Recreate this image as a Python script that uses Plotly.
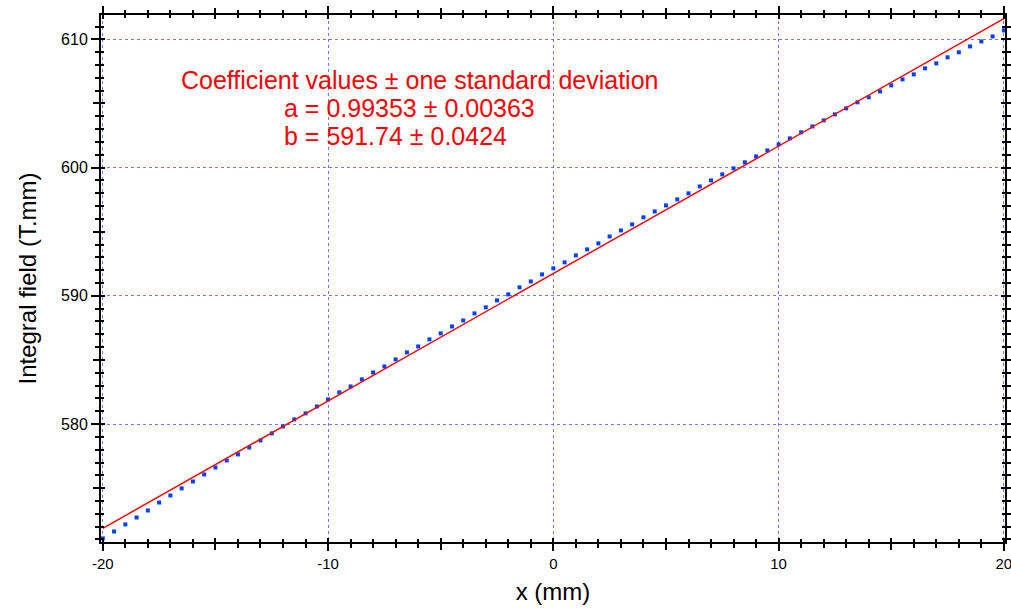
import plotly.graph_objects as go

# ---- data ----
x_mm = [-20, -19.5, -19, -18.5, -18, -17.5, -17, -16.5, -16, -15.5,
        -15, -14.5, -14, -13.5, -13, -12.5, -12, -11.5, -11, -10.5,
        -10, -9.5, -9, -8.5, -8, -7.5, -7, -6.5, -6, -5.5,
        -5, -4.5, -4, -3.5, -3, -2.5, -2, -1.5, -1, -0.5,
        0, 0.5, 1, 1.5, 2, 2.5, 3, 3.5, 4, 4.5,
        5, 5.5, 6, 6.5, 7, 7.5, 8, 8.5, 9, 9.5,
        10, 10.5, 11, 11.5, 12, 12.5, 13, 13.5, 14, 14.5,
        15, 15.5, 16, 16.5, 17, 17.5, 18, 18.5, 19, 19.5, 20]
field = [571.08, 571.62, 572.17, 572.71, 573.26, 573.88, 574.43, 574.98, 575.52, 576.07,
         576.61, 577.16, 577.63, 578.17, 578.72, 579.27, 579.81, 580.36, 580.83, 581.37,
         581.92, 582.47, 582.93, 583.48, 584.02, 584.49, 585.04, 585.59, 586.05, 586.60,
         587.07, 587.61, 588.08, 588.63, 589.10, 589.64, 590.11, 590.66, 591.12, 591.67,
         592.14, 592.61, 593.15, 593.62, 594.09, 594.63, 595.10, 595.57, 596.12, 596.58,
         597.05, 597.52, 597.99, 598.53, 599.00, 599.47, 599.94, 600.41, 600.87, 601.34,
         601.81, 602.28, 602.75, 603.21, 603.68, 604.15, 604.62, 605.09, 605.48, 605.94,
         606.41, 606.88, 607.27, 607.74, 608.13, 608.60, 608.99, 609.45, 609.84, 610.23, 610.70]
coef_a = 0.99353
coef_a_sd = 0.00363
coef_b = 591.74
coef_b_sd = 0.0424

x_tick_vals = [-20, -10, 0, 10, 20]
x_tick_text = ["-20", "-10", "0", "10", "20"]
y_tick_vals = [580, 590, 600, 610]
y_tick_text = ["580", "590", "600", "610"]

x_range = [-20.08, 20.05]
y_range = [570.8, 611.9]

FONT = "Liberation Sans, Arial, sans-serif"
GRID = "#7878ff"
fit_x = [min(x_mm), max(x_mm)]
fit_y = [coef_a * v + coef_b for v in fit_x]

fig = go.Figure()
fig.add_trace(go.Scatter(x=x_mm, y=field, mode="markers",
                         marker=dict(symbol="square", size=4, color="#0040ff", line=dict(width=0)),
                         showlegend=False, hoverinfo="x+y"))
fig.add_trace(go.Scatter(x=fit_x, y=fit_y, mode="lines",
                         line=dict(color="#ff0000", width=1.5), showlegend=False))
# dummy traces to activate the overlay axes (tick decorations)
fig.add_trace(go.Scatter(x=[None], y=[None], xaxis="x2", yaxis="y2", showlegend=False, hoverinfo="skip"))
fig.add_trace(go.Scatter(x=[None], y=[None], xaxis="x3", yaxis="y3", showlegend=False, hoverinfo="skip"))

common = dict(showline=True, linecolor="black", linewidth=2, zeroline=False,
              tickcolor="black", tickwidth=1.5, automargin=False)

fig.update_layout(
    width=1011, height=612,
    margin=dict(l=101, r=6, t=15, b=70),
    paper_bgcolor="white", plot_bgcolor="white",
    font=dict(family=FONT, color="black"),
    xaxis=dict(range=x_range, tickmode="array", tickvals=x_tick_vals, ticktext=x_tick_text,
               ticks="outside", ticklen=7, ticklabeloverflow="allow",
               mirror="allticks", showgrid=True, gridcolor=GRID, griddash="dot", gridwidth=1,
               minor=dict(tickmode="linear", tick0=0, dtick=1, ticks="outside", ticklen=3.5,
                          tickcolor="black", tickwidth=1.5, showgrid=False),
               tickfont=dict(size=15, family=FONT),
               title=dict(text="x (mm)", font=dict(size=24, family=FONT), standoff=12),
               **common),
    yaxis=dict(range=y_range, tickmode="array", tickvals=y_tick_vals, ticktext=y_tick_text,
               ticks="outside", ticklen=8, ticklabeloverflow="allow",
               mirror="allticks", showgrid=True, gridcolor=GRID, griddash="dot", gridwidth=1,
               minor=dict(tickmode="linear", tick0=0, dtick=1, ticks="outside", ticklen=4,
                          tickcolor="black", tickwidth=1.5, showgrid=False),
               tickfont=dict(size=16, family=FONT),
               title=dict(text="Integral field (T.mm)", font=dict(size=24, family=FONT), standoff=18),
               **common),
    xaxis2=dict(range=x_range, overlaying="x", anchor="y2", tickmode="linear", tick0=0, dtick=5,
                ticks="inside", ticklen=4, mirror="allticks", showticklabels=False, showgrid=False,
                minor=dict(tickmode="linear", tick0=0, dtick=1, ticks="inside", ticklen=3,
                           tickcolor="black", tickwidth=1.5, showgrid=False),
                **common),
    yaxis2=dict(range=y_range, overlaying="y", anchor="x2", tickmode="linear", tick0=0, dtick=5,
                ticks="inside", ticklen=4, mirror="allticks", showticklabels=False, showgrid=False,
                minor=dict(tickmode="linear", tick0=0, dtick=1, ticks="inside", ticklen=3,
                           tickcolor="black", tickwidth=1.5, showgrid=False),
                **common),
    xaxis3=dict(range=x_range, overlaying="x", anchor="y3", tickmode="linear", tick0=0, dtick=5,
                ticks="outside", ticklen=5.5, mirror="allticks", showticklabels=False, showgrid=False,
                **common),
    yaxis3=dict(range=y_range, overlaying="y", anchor="x3", tickmode="linear", tick0=0, dtick=5,
                ticks="outside", ticklen=6, mirror="allticks", showticklabels=False, showgrid=False,
                **common),
)

# white box behind the coefficient text (hides grid lines)
fig.add_shape(type="rect", xref="paper", yref="paper", x0=0.085, x1=0.62, y0=0.74, y1=0.903,
              fillcolor="white", line=dict(width=0), layer="between")

red = dict(family=FONT, size=25, color="#ff0000")
fig.add_annotation(xref="paper", yref="paper", x=0.3527, y=0.8767, xanchor="center", yanchor="middle",
                   text="Coefficient values ± one standard deviation", showarrow=False, font=red)
fig.add_annotation(xref="paper", yref="paper", x=0.1999, y=0.8235, xanchor="left", yanchor="middle",
                   text=f"a = {coef_a:.5f} ± {coef_a_sd:.5f}", showarrow=False, font=red)
fig.add_annotation(xref="paper", yref="paper", x=0.1999, y=0.7704, xanchor="left", yanchor="middle",
                   text=f"b = {coef_b:.2f} ± {coef_b_sd:.4f}", showarrow=False, font=red)

fig.write_html("out.html", post_script="document.body.style.margin='0px';",
               config={"displayModeBar": False})
